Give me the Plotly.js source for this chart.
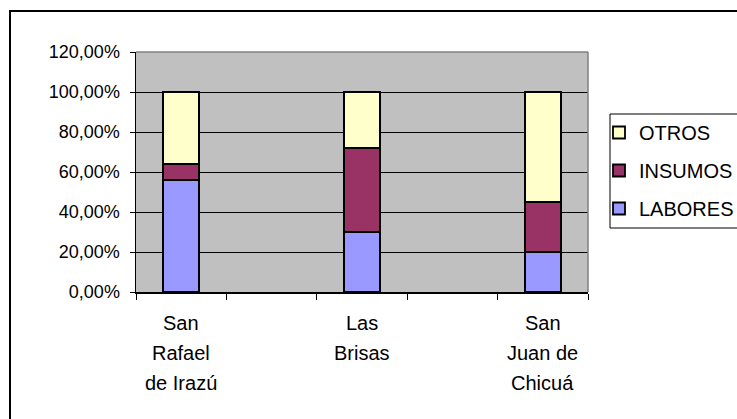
<!DOCTYPE html>
<html>
<head>
<meta charset="utf-8">
<script src="https://cdn.plot.ly/plotly-3.0.1.min.js"></script>
<style>html,body{margin:0;padding:0;background:#fff;}#chart{width:737px;height:419px;}</style>
</head>
<body>
<div id="chart"></div>
<script>
// Category slots (the original chart has blank slots between the named sites)
const slots = ["San Rafael de Irazú", " ", "Las Brisas", "  ", "San Juan de Chicuá"];
const categories = ["San Rafael de Irazú", "Las Brisas", "San Juan de Chicuá"];
const categoryLines = [["San", "Rafael", "de Irazú"], ["Las", "Brisas"], ["San", "Juan de", "Chicuá"]];
const labores = [0.56, 0.30, 0.20];
const insumos = [0.08, 0.42, 0.25];
const otros = [0.36, 0.28, 0.55];
const yTickVals = [0, 0.2, 0.4, 0.6, 0.8, 1.0, 1.2];
const yTickLabels = ["0,00%", "20,00%", "40,00%", "60,00%", "80,00%", "100,00%", "120,00%"];

const FONT = "Arial, 'Liberation Sans', sans-serif";
function bar(name, vals, color, grp, rank) {
  return {
    type: "bar", name: name, x: categories, y: vals, width: 0.4,
    legendgroup: grp, legendrank: rank,
    marker: {color: color, line: {color: "#000000", width: 1.8}},
    hoverinfo: "skip"
  };
}
const data = [
  bar("LABORES", labores, "#9999FF", "a", 3),
  bar("INSUMOS", insumos, "#993366", "b", 2),
  bar("OTROS", otros, "#FFFFCC", "c", 1)
];

const annotations = [];
categoryLines.forEach((lines, ci) => {
  lines.forEach((t, li) => {
    annotations.push({
      x: categories[ci], xref: "x", y: 0, yref: "y",
      yanchor: "middle", xanchor: "center",
      yshift: -(31 + li * 30), showarrow: false, text: t,
      font: {family: FONT, size: 20, color: "#000"}
    });
  });
});

const L = 136, R = 588, T = 52, B = 292, W = 737, H = 419;
const px = v => (v - L) / (R - L);
const py = v => (B - v) / (B - T);

const layout = {
  width: W, height: H,
  margin: {l: L, r: W - R, t: T, b: H - B, pad: 0, autoexpand: false},
  paper_bgcolor: "#FFFFFF",
  plot_bgcolor: "#C0C0C0",
  barmode: "stack",
  bargap: 0,
  font: {family: FONT, size: 18, color: "#000"},
  showlegend: true,
  legend: {
    x: px(599), y: py(113), xanchor: "left", yanchor: "top",
    bgcolor: "rgba(0,0,0,0)", borderwidth: 0,
    traceorder: "grouped", tracegroupgap: 9,
    font: {family: FONT, size: 20, color: "#000"}
  },
  xaxis: {
    type: "category", categoryorder: "array", categoryarray: slots,
    range: [-0.5, 4.5], fixedrange: true,
    showticklabels: false, tickson: "boundaries",
    ticks: "outside", ticklen: 6, tickcolor: "#000", tickwidth: 1,
    showgrid: false, showline: true, linecolor: "#000", linewidth: 1.5,
    zeroline: false
  },
  yaxis: {
    range: [0, 1.2], fixedrange: true,
    tickmode: "array", tickvals: yTickVals, ticktext: yTickLabels,
    ticks: "outside", ticklen: 5, tickcolor: "#000", tickwidth: 1,
    ticklabelstandoff: 6,
    showgrid: true, gridcolor: "#000", gridwidth: 1,
    showline: true, linecolor: "#000", linewidth: 1.5, zeroline: false,
    tickfont: {family: FONT, size: 18, color: "#000"}
  },
  annotations: annotations,
  shapes: [
    {type: "rect", xref: "paper", yref: "paper", x0: px(10), x1: px(745), y0: py(11), y1: py(430),
     line: {color: "#000", width: 2}, fillcolor: "rgba(0,0,0,0)", layer: "below"},
    {type: "rect", xref: "paper", yref: "paper", x0: px(610), x1: px(745), y0: py(114), y1: py(228),
     line: {color: "#000", width: 1}, fillcolor: "#FFFFFF", layer: "below"},
    {type: "line", xref: "paper", yref: "paper", x0: 0, x1: 1, y0: 1, y1: 1,
     line: {color: "#808080", width: 1.5}, layer: "above"},
    {type: "line", xref: "paper", yref: "paper", x0: 1, x1: 1, y0: 0, y1: 1,
     line: {color: "#808080", width: 1.5}, layer: "above"}
  ]
};

Plotly.newPlot("chart", data, layout, {displayModeBar: false, staticPlot: true});
</script>
</body>
</html>
